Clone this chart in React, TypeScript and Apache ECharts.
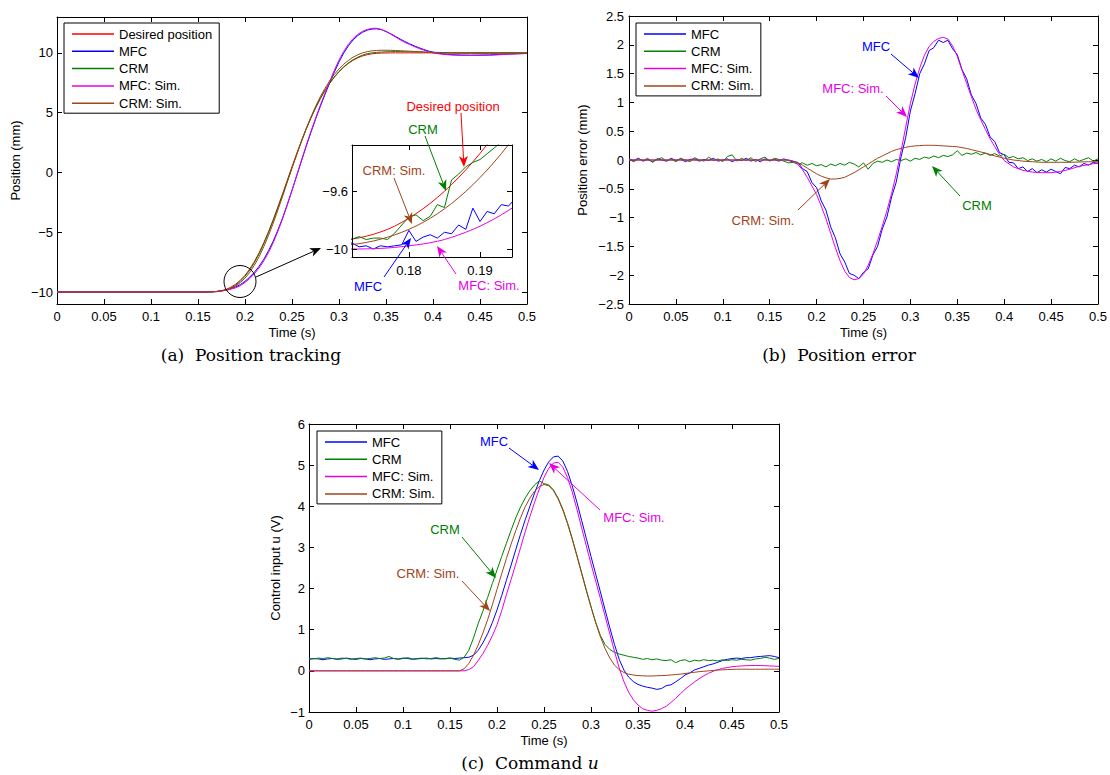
import React, { useEffect, useRef } from 'react';
import * as echarts from 'echarts';

const FONT = '"Liberation Sans", Arial, Helvetica, sans-serif';
const SERIF = '"DejaVu Serif", "Liberation Serif", serif';

const COL = { red: '#ff0000', blue: '#0000ff', green: '#008000', magenta: '#e600e6', brown: '#a0441a' };

// ---------- time grids ----------
const tA = [0, 0.1, 0.15, 0.16, 0.165,
  0.17, 0.175, 0.18, 0.185, 0.19, 0.195, 0.2, 0.205, 0.21, 0.215, 0.22, 0.225, 0.23, 0.235, 0.24, 0.245,
  0.25, 0.255, 0.26, 0.265, 0.27, 0.275, 0.28, 0.285, 0.29, 0.295, 0.3, 0.305, 0.31, 0.315, 0.32, 0.325,
  0.33, 0.335, 0.34, 0.345, 0.35,
  0.355, 0.36, 0.365, 0.37, 0.375, 0.38, 0.385, 0.39, 0.395, 0.4,
  0.41, 0.42, 0.43, 0.44, 0.45, 0.46, 0.47, 0.48, 0.49, 0.5];
const tU = Array.from({ length: 101 }, (_, i) => Math.round(i * 5) / 1000);
const tInset = [0.171, 0.172, 0.173, 0.174, 0.175, 0.176, 0.177, 0.178, 0.179, 0.18, 0.181, 0.182, 0.183,
  0.184, 0.185, 0.186, 0.187, 0.188, 0.189, 0.19, 0.191, 0.192, 0.193, 0.194, 0.195, 0.196];

// ---------- (a) position tracking (mm), on tA ----------
const posDesired = [-10, -10, -10, -9.99, -9.98,
  -9.95, -9.88, -9.78, -9.59, -9.35, -9.02, -8.60, -8.08, -7.45, -6.72, -5.88, -4.95, -3.95, -2.88, -1.78, -0.65,
  0.48, 1.58, 2.63, 3.63, 4.55, 5.40, 6.17, 6.85, 7.45, 7.97, 8.42, 8.80, 9.12, 9.38, 9.58, 9.74,
  9.85, 9.92, 9.96, 9.98, 9.99,
  10, 10, 10, 10, 10, 10, 10, 10, 10, 10,
  10, 10, 10, 10, 10, 10, 10, 10, 10, 10];
const posMfc = [-10, -10, -10, -9.99, -9.98,
  -9.95, -9.89, -9.83, -9.71, -9.57, -9.38, -9.10, -8.76, -8.35, -7.85, -7.26, -6.55, -5.75, -4.82, -3.80, -2.68,
  -1.50, -0.28, 0.95, 2.16, 3.32, 4.44, 5.50, 6.50, 7.47, 8.39, 9.24, 9.98, 10.59, 11.08, 11.45, 11.72,
  11.90, 11.99, 12.01, 11.94, 11.79,
  11.60, 11.38, 11.16, 10.95, 10.76, 10.59, 10.43, 10.29, 10.16, 10.06,
  9.92, 9.85, 9.82, 9.81, 9.82, 9.83, 9.87, 9.90, 9.93, 9.95];
const posCrm = [-10, -10, -10, -9.99, -9.98,
  -9.97, -9.92, -9.84, -9.66, -9.43, -9.10, -8.68, -8.17, -7.55, -6.81, -5.96, -5.03, -4.03, -2.95, -1.86, -0.73,
  0.40, 1.48, 2.57, 3.60, 4.53, 5.39, 6.16, 6.85, 7.45, 7.98, 8.44, 8.83, 9.16, 9.43, 9.64, 9.81,
  9.93, 10.00, 10.04, 10.07, 10.09,
  10.10, 10.11, 10.10, 10.10, 10.09, 10.09, 10.08, 10.07, 10.06, 10.05,
  10.03, 10.01, 10.00, 10.00, 10.01, 10.00, 10.00, 10.01, 10.00, 10.00];
const posMfcSim = [-10, -10, -10, -9.99, -9.98,
  -9.95, -9.90, -9.86, -9.76, -9.65, -9.47, -9.20, -8.88, -8.47, -7.99, -7.40, -6.70, -5.88, -4.92, -3.86, -2.71,
  -1.50, -0.25, 1.00, 2.23, 3.40, 4.52, 5.59, 6.61, 7.60, 8.54, 9.40, 10.12, 10.72, 11.20, 11.55, 11.80,
  11.96, 12.05, 12.06, 11.96, 11.79,
  11.56, 11.33, 11.10, 10.88, 10.70, 10.53, 10.37, 10.23, 10.10, 9.99,
  9.88, 9.82, 9.79, 9.78, 9.78, 9.80, 9.84, 9.89, 9.92, 9.95];
const posCrmSim = [-10, -10, -10, -9.99, -9.98,
  -9.95, -9.90, -9.83, -9.68, -9.49, -9.21, -8.84, -8.36, -7.76, -7.05, -6.21, -5.27, -4.25, -3.14, -2.00, -0.82,
  0.36, 1.51, 2.61, 3.66, 4.62, 5.51, 6.32, 7.03, 7.65, 8.19, 8.66, 9.05, 9.37, 9.64, 9.84, 10.00,
  10.10, 10.17, 10.20, 10.22, 10.22,
  10.215, 10.20, 10.18, 10.16, 10.14, 10.12, 10.095, 10.07, 10.05, 10.03,
  10.00, 9.98, 9.97, 9.96, 9.96, 9.96, 9.96, 9.965, 9.97, 9.97];

// ---------- (a) inset, on tInset ----------
const insetDesired = [-9.935, -9.927, -9.918, -9.907, -9.894, -9.878, -9.86, -9.838, -9.812, -9.783, -9.752, -9.718, -9.681,
  -9.641, -9.598, -9.552, -9.503, -9.451, -9.396, -9.338, -9.277, -9.213, -9.146, -9.076, -9.003, -8.927];
const insetMfc = [-9.96, -9.954, -9.98, -9.973, -9.995, -9.973, -9.98, -9.973, -9.966, -9.867, -9.943, -9.913, -9.897,
  -9.92, -9.88, -9.89, -9.83, -9.86, -9.714, -9.806, -9.737, -9.753, -9.69, -9.70, -9.646, -9.62];
const insetCrm = [-9.935, -9.927, -9.91, -9.93, -9.92, -9.92, -9.93, -9.886, -9.83, -9.776, -9.76, -9.8, -9.77,
  -9.69, -9.71, -9.52, -9.48, -9.43, -9.40, -9.38, -9.34, -9.30, -9.26, -9.21, -9.16, -9.10];
const insetMfcSim = [-9.996, -9.995, -9.995, -9.994, -9.993, -9.991, -9.988, -9.984, -9.979, -9.973, -9.967, -9.96, -9.952,
  -9.942, -9.93, -9.915, -9.898, -9.88, -9.86, -9.838, -9.814, -9.788, -9.76, -9.73, -9.698, -9.664];
const insetCrmSim = [-9.970, -9.965, -9.958, -9.950, -9.940, -9.928, -9.914, -9.898, -9.88, -9.86, -9.837, -9.812, -9.784,
  -9.753, -9.719, -9.682, -9.642, -9.599, -9.553, -9.504, -9.452, -9.397, -9.339, -9.278, -9.214, -9.147];

// ---------- (b) position error (mm) ----------
const errMfc = [ // on tU
  0.02, -0.01, 0.03, -0.02, 0.01, -0.03, 0.02, 0.00, -0.02, 0.03,
  -0.01, 0.02, -0.03, 0.01, 0.02, -0.02, 0.01, -0.01, 0.03, -0.02,
  0.00, 0.02, -0.03, 0.01, -0.01, 0.03, -0.02, 0.01, -0.03, 0.02,
  -0.01, 0.01, -0.02, 0.02, -0.01, -0.03, -0.04, -0.15, -0.20, -0.39,
  -0.48, -0.71, -0.87, -1.16, -1.35, -1.63, -1.77, -1.97, -2.00, -2.06,
  -1.95, -1.89, -1.65, -1.50, -1.20, -0.99, -0.64, -0.38, 0.05, 0.39,
  0.85, 1.15, 1.50, 1.67, 1.90, 1.95, 2.08, 2.04, 2.08, 1.93,
  1.83, 1.57, 1.41, 1.13, 0.98, 0.73, 0.62, 0.40, 0.32, 0.13,
  0.09, -0.04, -0.05, -0.15, -0.12, -0.20, -0.15, -0.22, -0.17, -0.21,
  -0.16, -0.20, -0.24, -0.13, -0.15, -0.09, -0.12, -0.06, -0.09, -0.04,
  -0.06];
const errCrm = [ // on tU
  0.01, -0.03, 0.02, -0.01, 0.03, -0.04, 0.01, 0.04, -0.02, 0.02,
  -0.03, 0.03, 0.00, -0.03, 0.04, 0.00, -0.02, 0.05, -0.01, 0.02,
  -0.03, 0.06, 0.09, -0.02, 0.03, -0.01, 0.04, -0.03, 0.02, 0.05,
  -0.02, 0.03, 0.01, -0.02, -0.05, -0.04, -0.07, -0.05, -0.09, -0.06,
  -0.10, -0.08, -0.12, -0.07, -0.10, -0.06, -0.09, -0.04, -0.07, -0.12,
  -0.05, -0.16, -0.06, -0.02, -0.04, 0.00, -0.03, 0.01, -0.01, 0.02,
  -0.02, 0.03, 0.01, 0.05, 0.03, 0.07, 0.04, 0.08, 0.06, 0.09,
  0.16, 0.08, 0.12, 0.10, 0.13, 0.09, 0.12, 0.08, 0.11, 0.07,
  0.10, 0.04, 0.06, 0.02, 0.04, -0.01, 0.02, -0.02, 0.01, -0.03,
  0.02, -0.02, 0.03, -0.01, -0.03, 0.02, -0.02, 0.01, 0.04, -0.02,
  0.02];
const errMfcSim = [0, 0, 0, 0, 0, // on tA
  0, -0.02, -0.08, -0.17, -0.30, -0.45, -0.60, -0.80, -1.02, -1.27, -1.52, -1.75, -1.93, -2.04, -2.08, -2.06,
  -1.98, -1.83, -1.63, -1.40, -1.15, -0.88, -0.58, -0.24, 0.15, 0.57, 0.98, 1.32, 1.60, 1.82, 1.97, 2.06,
  2.11, 2.13, 2.10, 1.98, 1.80,
  1.56, 1.33, 1.10, 0.88, 0.70, 0.53, 0.37, 0.23, 0.10, -0.01,
  -0.12, -0.18, -0.21, -0.22, -0.22, -0.20, -0.16, -0.11, -0.08, -0.05];
const errCrmSim = [0, 0, 0, 0, 0, // on tA
  0, -0.02, -0.05, -0.09, -0.14, -0.19, -0.24, -0.28, -0.31, -0.33, -0.33, -0.32, -0.30, -0.26, -0.22, -0.17,
  -0.12, -0.07, -0.02, 0.03, 0.07, 0.11, 0.15, 0.18, 0.20, 0.22, 0.235, 0.245, 0.25, 0.255, 0.255, 0.255,
  0.25, 0.245, 0.24, 0.235, 0.23,
  0.215, 0.20, 0.18, 0.16, 0.14, 0.12, 0.095, 0.07, 0.05, 0.03,
  0.00, -0.02, -0.03, -0.04, -0.04, -0.04, -0.04, -0.035, -0.03, -0.03];

// ---------- (c) control input (V), on tU ----------
const ctrlMfc = [
  0.28, 0.30, 0.29, 0.27, 0.29, 0.30, 0.28, 0.29, 0.31, 0.29,
  0.28, 0.30, 0.29, 0.27, 0.29, 0.30, 0.28, 0.29, 0.30, 0.29,
  0.31, 0.30, 0.28, 0.29, 0.30, 0.31, 0.29, 0.30, 0.29, 0.30,
  0.31, 0.30, 0.31, 0.32, 0.33, 0.38, 0.50, 0.68, 0.90, 1.17,
  1.48, 1.83, 2.20, 2.57, 2.95, 3.32, 3.67, 4.00, 4.32, 4.62,
  4.88, 5.08, 5.20, 5.22, 5.10, 4.85, 4.50, 4.10, 3.66, 3.22,
  2.78, 2.35, 1.92, 1.48, 1.05, 0.64, 0.28, 0.02, -0.15, -0.26,
  -0.33, -0.37, -0.40, -0.42, -0.45, -0.43, -0.36, -0.34, -0.27, -0.19,
  -0.10, -0.05, 0.02, 0.06, 0.10, 0.14, 0.17, 0.21, 0.25, 0.28,
  0.30, 0.31, 0.30, 0.32, 0.32, 0.34, 0.35, 0.36, 0.37, 0.35,
  0.32];
const ctrlCrm = [
  0.30, 0.29, 0.31, 0.30, 0.32, 0.30, 0.29, 0.31, 0.30, 0.28,
  0.30, 0.31, 0.29, 0.30, 0.32, 0.30, 0.31, 0.35, 0.30, 0.28,
  0.30, 0.32, 0.29, 0.30, 0.31, 0.29, 0.30, 0.32, 0.30, 0.29,
  0.31, 0.28, 0.26, 0.33, 0.50, 0.80, 1.15, 1.45, 1.78, 2.12,
  2.45, 2.78, 3.10, 3.42, 3.72, 3.98, 4.20, 4.38, 4.52, 4.62,
  4.55, 4.52, 4.40, 4.20, 3.93, 3.60, 3.22, 2.81, 2.39, 1.97,
  1.56, 1.18, 0.86, 0.64, 0.52, 0.45, 0.41, 0.38, 0.35, 0.33,
  0.31, 0.28, 0.30, 0.27, 0.29, 0.26, 0.25, 0.27, 0.20, 0.25,
  0.27, 0.22, 0.26, 0.24, 0.27, 0.25, 0.26, 0.24, 0.27, 0.25,
  0.27, 0.26, 0.28, 0.27, 0.26, 0.29, 0.30, 0.33, 0.31, 0.28,
  0.30];
const ctrlMfcSim = [
  0, 0, 0, 0, 0, 0, 0, 0, 0, 0,
  0, 0, 0, 0, 0, 0, 0, 0, 0, 0,
  0, 0, 0, 0, 0, 0, 0, 0, 0, 0,
  0, 0, 0, 0, 0.03, 0.10, 0.25, 0.42, 0.62, 0.85,
  1.12, 1.46, 1.85, 2.22, 2.60, 2.99, 3.38, 3.75, 4.10, 4.42,
  4.70, 4.92, 5.05, 5.07, 4.95, 4.70, 4.35, 3.93, 3.48, 3.04,
  2.60, 2.18, 1.76, 1.33, 0.90, 0.47, 0.07, -0.26, -0.52, -0.70,
  -0.83, -0.92, -0.96, -0.98, -0.96, -0.92, -0.86, -0.77, -0.67, -0.56,
  -0.45, -0.36, -0.27, -0.19, -0.12, -0.06, -0.01, 0.03, 0.06, 0.08,
  0.10, 0.11, 0.12, 0.125, 0.13, 0.13, 0.13, 0.125, 0.12, 0.115,
  0.11];
const ctrlCrmSim = [
  0, 0, 0, 0, 0, 0, 0, 0, 0, 0,
  0, 0, 0, 0, 0, 0, 0, 0, 0, 0,
  0, 0, 0, 0, 0, 0, 0, 0, 0, 0,
  0, 0, 0, 0.05, 0.18, 0.38, 0.63, 0.92, 1.24, 1.60,
  1.98, 2.36, 2.73, 3.08, 3.41, 3.72, 3.99, 4.20, 4.37, 4.48,
  4.53, 4.50, 4.38, 4.18, 3.91, 3.58, 3.20, 2.79, 2.37, 1.95,
  1.55, 1.17, 0.83, 0.54, 0.31, 0.14, 0.03, -0.04, -0.08, -0.10,
  -0.115, -0.12, -0.125, -0.125, -0.12, -0.115, -0.11, -0.10, -0.09, -0.08,
  -0.065, -0.05, -0.035, -0.02, -0.01, 0.00, 0.01, 0.02, 0.025, 0.03,
  0.035, 0.04, 0.04, 0.04, 0.04, 0.04, 0.04, 0.04, 0.04, 0.04,
  0.04];

// ---------- ticks ----------
const posTicks = [-10, -5, 0, 5, 10];
const insetXTicks = [0.18, 0.19];
const insetYTicks = [-10, -9.6];

const NAMES = { d: 'Desired position', m: 'MFC', c: 'CRM', ms: 'MFC: Sim.', cs: 'CRM: Sim.' };

const fmt = (v: number) => String(Math.round(v * 1000) / 1000).replace('-', '\u2212');

const pairs = (t: number[], v: number[]) => t.map((x, i) => [x, v[i]]);

function line(name: string, color: string, data: number[][], axis: number, z = 2) {
  return {
    type: 'line', name, data, xAxisIndex: axis, yAxisIndex: axis, symbol: 'none', showSymbol: false,
    lineStyle: { color, width: 1 }, itemStyle: { color }, color, z, silent: true, clip: true,
  };
}

const axisLine = { show: true, onZero: false, lineStyle: { color: '#000', width: 1 } };
const labelStyle = { color: '#000', fontSize: 13, fontFamily: FONT };

function xPair(grid: number, min: number, max: number, o: any) {
  const tick: any = { inside: true, length: 5, lineStyle: { color: '#000' } };
  if (o.custom) tick.customValues = o.custom;
  const base: any = { gridIndex: grid, type: 'value', min, max, splitLine: { show: false }, axisLine, z: o.z || 0 };
  if (o.interval) base.interval = o.interval;
  const lab: any = { ...labelStyle, margin: o.margin ?? 6, formatter: fmt, showMinLabel: true, showMaxLabel: true };
  if (o.custom) lab.customValues = o.custom;
  const bottom: any = { ...base, position: 'bottom', axisTick: tick, axisLabel: lab };
  if (o.name) Object.assign(bottom, { name: o.name, nameLocation: 'middle', nameGap: o.nameGap, nameTextStyle: labelStyle });
  const top: any = { ...base, position: 'top', axisTick: tick, axisLabel: { show: false } };
  return [bottom, top];
}
function yPair(grid: number, min: number, max: number, o: any) {
  const tick: any = { inside: true, length: 5, lineStyle: { color: '#000' } };
  if (o.custom) tick.customValues = o.custom;
  const base: any = { gridIndex: grid, type: 'value', min, max, splitLine: { show: false }, axisLine, z: o.z || 0 };
  if (o.interval) base.interval = o.interval;
  const lab: any = { ...labelStyle, margin: o.margin ?? 4, formatter: fmt, showMinLabel: true, showMaxLabel: true };
  if (o.custom) lab.customValues = o.custom;
  const left: any = { ...base, position: 'left', axisTick: tick, axisLabel: lab };
  if (o.name) Object.assign(left, { name: o.name, nameLocation: 'middle', nameGap: o.nameGap, nameRotate: 90, nameTextStyle: labelStyle });
  const right: any = { ...base, position: 'right', axisTick: tick, axisLabel: { show: false } };
  return [left, right];
}

function arrow(x1: number, y1: number, x2: number, y2: number, color: string) {
  const dx = x2 - x1, dy = y2 - y1;
  const L = Math.hypot(dx, dy);
  const ux = dx / L, uy = dy / L;
  const px = -uy, py = ux;
  const hl = 11, hw = 4.5, notch = 3;
  const bx = x2 - ux * hl, by = y2 - uy * hl;
  const nx = x2 - ux * (hl - notch), ny = y2 - uy * (hl - notch);
  return [
    { type: 'line', shape: { x1, y1, x2: nx, y2: ny }, style: { stroke: color, lineWidth: 1 }, z: 10 },
    { type: 'polygon', shape: { points: [[x2, y2], [bx + px * hw, by + py * hw], [nx, ny], [bx - px * hw, by - py * hw]] }, style: { fill: color }, z: 10 },
  ];
}
function label(text: string, x: number, y: number, color: string) {
  return { type: 'text', x, y, style: { text, fill: color, fontSize: 13, fontFamily: FONT, align: 'center', verticalAlign: 'middle' }, z: 10 };
}

// annotation layout (pixels)
const annotations = [
  // (a)
  label(NAMES.d, 453, 106, COL.red), ...arrow(461, 113, 464, 167, COL.red),
  label(NAMES.c, 423, 129, COL.green), ...arrow(425, 136, 446, 191, COL.green),
  label(NAMES.cs, 394, 170, COL.brown), ...arrow(394, 178, 412, 224, COL.brown),
  label(NAMES.m, 368, 286, COL.blue), ...arrow(384, 277, 411, 238, COL.blue),
  label(NAMES.ms, 489, 285, COL.magenta), ...arrow(456, 274, 437, 246, COL.magenta),
  { type: 'ellipse', shape: { cx: 240, cy: 281.5, rx: 16, ry: 16 }, style: { fill: 'none', stroke: '#000', lineWidth: 1 }, z: 10 },
  ...arrow(256, 277, 321, 248, '#000'),
  // (b)
  label(NAMES.m, 876, 46, COL.blue), ...arrow(891, 54, 919, 78, COL.blue),
  label(NAMES.ms, 853, 88, COL.magenta), ...arrow(886, 96, 907, 117, COL.magenta),
  label(NAMES.cs, 763, 220, COL.brown), ...arrow(798, 210, 830, 179, COL.brown),
  label(NAMES.c, 977, 205, COL.green), ...arrow(960, 196, 932, 166, COL.green),
  // (c)
  label(NAMES.m, 494, 441, COL.blue), ...arrow(509, 448, 539, 470, COL.blue),
  label(NAMES.ms, 634, 517, COL.magenta), ...arrow(600, 510, 549, 463, COL.magenta),
  label(NAMES.c, 445, 529, COL.green), ...arrow(462, 537, 496, 578, COL.green),
  label(NAMES.cs, 428, 573, COL.brown), ...arrow(462, 581, 490, 611, COL.brown),
];

const CAP = { fill: '#000', fontSize: 17, fontFamily: SERIF, align: 'center', verticalAlign: 'middle' };
const captions = [
  { type: 'text', x: 251, y: 355, style: { ...CAP, text: '(a)  Position tracking' }, z: 10 },
  { type: 'text', x: 839, y: 355, style: { ...CAP, text: '(b)  Position error' }, z: 10 },
  {
    type: 'text', x: 530, y: 763, z: 10,
    style: {
      text: '{n|(c)  Command }{i|u}', align: 'center', verticalAlign: 'middle',
      rich: {
        n: { fontSize: 17, fontFamily: SERIF, fill: '#000', color: '#000' },
        i: { fontSize: 17, fontFamily: SERIF, fontStyle: 'italic', fill: '#000', color: '#000' },
      },
    },
  },
];

function legend(data: string[], left: number, top: number) {
  return {
    data, left, top, orient: 'vertical', icon: 'rect', itemWidth: 42, itemHeight: 1.5, itemGap: 3.3,
    padding: [4, 7, 3, 8], borderColor: '#000', borderWidth: 1, backgroundColor: '#fff', borderRadius: 0,
    textStyle: { color: '#000', fontSize: 13, fontFamily: FONT, lineHeight: 14 }, selectedMode: false,
  };
}

export default function App() {
  const ref = useRef<HTMLDivElement>(null);
  useEffect(() => {
    document.body.style.margin = '0';
    const chart = echarts.init(ref.current!, null, { renderer: 'svg' });
    const option: any = {
      animation: false,
      backgroundColor: '#fff',
      grid: [
        { left: 57, top: 17, width: 470, height: 287 },
        { left: 352, top: 145, width: 160, height: 112 },
        { left: 629, top: 16, width: 470, height: 288 },
        { left: 309, top: 424, width: 470, height: 288 },
      ],
      xAxis: [
        ...xPair(0, 0, 0.5, { interval: 0.05, name: 'Time (s)', nameGap: 22 }),
        ...xPair(1, 0.172, 0.1945, { custom: insetXTicks, margin: 7, z: 7 }),
        ...xPair(2, 0, 0.5, { interval: 0.05, name: 'Time (s)', nameGap: 22 }),
        ...xPair(3, 0, 0.5, { interval: 0.05, name: 'Time (s)', nameGap: 22 }),
      ],
      yAxis: [
        ...yPair(0, -11, 13, { custom: posTicks, name: 'Position (mm)', nameGap: 35 }),
        ...yPair(1, -10.05, -9.28, { custom: insetYTicks, z: 7 }),
        ...yPair(2, -2.5, 2.5, { interval: 0.5, name: 'Position error (mm)', nameGap: 40, margin: 5 }),
        ...yPair(3, -1, 6, { interval: 1, name: 'Control input u (V)', nameGap: 27 }),
      ],
      legend: [
        legend([NAMES.d, NAMES.m, NAMES.c, NAMES.ms, NAMES.cs], 64, 23),
        legend([NAMES.m, NAMES.c, NAMES.ms, NAMES.cs], 636, 23),
        legend([NAMES.m, NAMES.c, NAMES.ms, NAMES.cs], 317, 431),
      ],
      graphic: [
        { type: 'rect', shape: { x: 352, y: 145, width: 160, height: 112 }, style: { fill: '#fff' }, z: 5 },
        ...annotations,
        ...captions,
      ],
      series: [
        // (a)
        line(NAMES.d, COL.red, pairs(tA, posDesired), 0),
        line(NAMES.m, COL.blue, pairs(tA, posMfc), 0),
        line(NAMES.c, COL.green, pairs(tA, posCrm), 0),
        line(NAMES.ms, COL.magenta, pairs(tA, posMfcSim), 0),
        line(NAMES.cs, COL.brown, pairs(tA, posCrmSim), 0),
        // (a) inset -> axis index 2
        line(NAMES.d, COL.red, pairs(tInset, insetDesired), 2, 6),
        line(NAMES.m, COL.blue, pairs(tInset, insetMfc), 2, 6),
        line(NAMES.c, COL.green, pairs(tInset, insetCrm), 2, 6),
        line(NAMES.ms, COL.magenta, pairs(tInset, insetMfcSim), 2, 6),
        line(NAMES.cs, COL.brown, pairs(tInset, insetCrmSim), 2, 6),
        // (b) -> axis index 4
        line(NAMES.m, COL.blue, pairs(tU, errMfc), 4),
        line(NAMES.c, COL.green, pairs(tU, errCrm), 4),
        line(NAMES.ms, COL.magenta, pairs(tA, errMfcSim), 4),
        line(NAMES.cs, COL.brown, pairs(tA, errCrmSim), 4),
        // (c) -> axis index 6
        line(NAMES.m, COL.blue, pairs(tU, ctrlMfc), 6),
        line(NAMES.c, COL.green, pairs(tU, ctrlCrm), 6),
        line(NAMES.ms, COL.magenta, pairs(tU, ctrlMfcSim), 6),
        line(NAMES.cs, COL.brown, pairs(tU, ctrlCrmSim), 6),
      ],
    };
    chart.setOption(option);
    return () => chart.dispose();
  }, []);
  return <div ref={ref} style={{ position: 'fixed', left: 0, top: 0, width: 1110, height: 775, background: '#fff' }} />;
}
